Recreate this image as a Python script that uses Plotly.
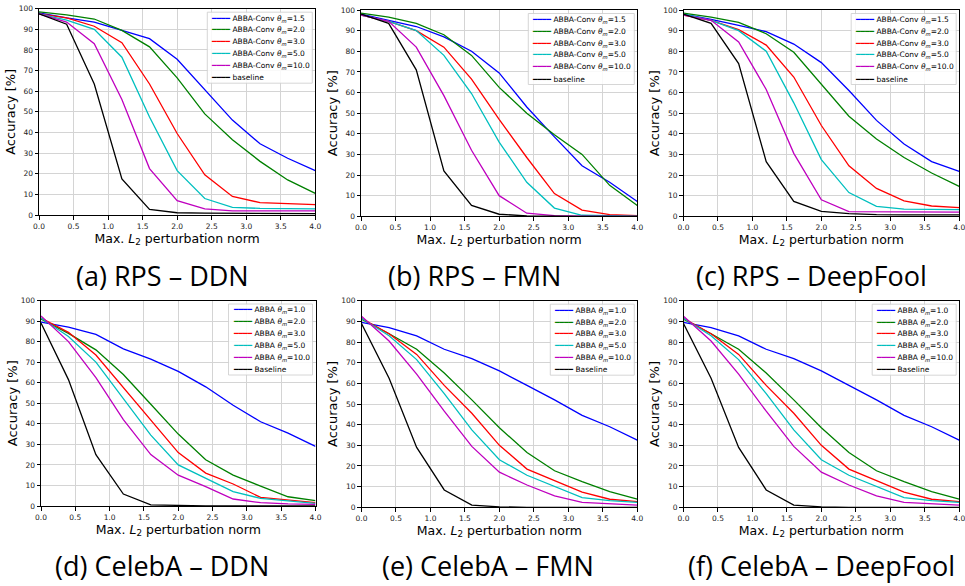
import plotly.graph_objects as go

W, H = 965, 586

# ---------------- data ----------------
NORM = [0.0, 0.4, 0.8, 1.2, 1.6, 2.0, 2.4, 2.8, 3.2, 3.6, 4.0]

RPS_LABELS = [
    "ABBA-Conv <i>θ</i><sub><i>m</i></sub>=1.5",
    "ABBA-Conv <i>θ</i><sub><i>m</i></sub>=2.0",
    "ABBA-Conv <i>θ</i><sub><i>m</i></sub>=3.0",
    "ABBA-Conv <i>θ</i><sub><i>m</i></sub>=5.0",
    "ABBA-Conv <i>θ</i><sub><i>m</i></sub>=10.0",
    "baseline",
]
CELEBA_LABELS = [
    "ABBA <i>θ</i><sub><i>m</i></sub>=1.0",
    "ABBA <i>θ</i><sub><i>m</i></sub>=2.0",
    "ABBA <i>θ</i><sub><i>m</i></sub>=3.0",
    "ABBA <i>θ</i><sub><i>m</i></sub>=5.0",
    "ABBA <i>θ</i><sub><i>m</i></sub>=10.0",
    "Baseline",
]
CAPTIONS = [
    "(a) RPS – DDN", "(b) RPS – FMN", "(c) RPS – DeepFool",
    "(d) CelebA – DDN", "(e) CelebA – FMN", "(f) CelebA – DeepFool",
]
X_TITLE = "Max. <i>L</i><sub>2</sub> perturbation norm"
Y_TITLE = "Accuracy [%]"

# (a) RPS - DDN
RPS_DDN_T15 = [98, 95.5, 93.5, 89.5, 85.5, 75.5, 61, 46, 34.5, 27.5, 21.5]
RPS_DDN_T20 = [98.5, 97, 95, 89.5, 81.5, 66.5, 49, 36.5, 26, 17, 10.5]
RPS_DDN_T30 = [97.5, 95.5, 91.5, 83.5, 63.5, 39.5, 19.5, 9, 6, 5.5, 5]
RPS_DDN_T50 = [97.5, 94.5, 90, 76.5, 47.5, 21.5, 8, 3.7, 3.2, 3.1, 3]
RPS_DDN_T100 = [97.5, 93.5, 83, 56, 22.5, 7, 3, 2, 2, 2, 2]
RPS_DDN_BASE = [97.5, 92.5, 63.5, 17.5, 2.7, 1.1, 0.9, 0.8, 0.7, 0.7, 0.7]

# (b) RPS - FMN
RPS_FMN_T15 = [98, 95, 92, 87, 80, 69.5, 53, 38.5, 24.5, 16.5, 7.2]
RPS_FMN_T20 = [98.5, 96.5, 93.5, 88, 78, 62.5, 50, 39.5, 30, 15, 5.2]
RPS_FMN_T30 = [97.5, 94.5, 90, 82, 66.5, 47, 28.5, 11, 3, 0.8, 0.3]
RPS_FMN_T50 = [97.5, 94.5, 90, 78, 59.5, 36, 16.5, 4, 0.5, 0.2, 0.1]
RPS_FMN_T100 = [97.5, 94.5, 82, 58.5, 32, 10, 1.5, 0.3, 0.1, 0.05, 0]
RPS_FMN_BASE = [98, 93.5, 71, 22, 5.3, 1, 0.2, 0, 0, 0, 0]

# (c) RPS - DeepFool
RPS_DF_T15 = [98, 95.5, 92.5, 89.5, 83.5, 74.5, 61, 46.5, 35, 26.5, 21.8]
RPS_DF_T20 = [98.5, 96.5, 94, 88.5, 79.5, 64, 48.5, 37.5, 28.5, 21, 14.5]
RPS_DF_T30 = [97.5, 95, 90.5, 83, 67.5, 44, 24.5, 13.5, 7.5, 5, 4.2]
RPS_DF_T50 = [98, 95, 90, 80, 55, 27.5, 11.5, 4.8, 3.5, 3.2, 3.2]
RPS_DF_T100 = [97.5, 95, 84.5, 61.5, 30.5, 8, 2.3, 2.2, 2.1, 2, 2]
RPS_DF_BASE = [98, 93.5, 74, 26.5, 7.2, 2.4, 1.3, 0.8, 0.7, 0.7, 0.7]

# (d) CelebA - DDN
CEL_DDN_T10 = [89.5, 87, 83.5, 76.5, 71.5, 65.5, 58, 49, 41, 35.5, 29]
CEL_DDN_T20 = [91, 84, 76, 64, 49.5, 35, 22.5, 15, 9.7, 4.5, 2.6]
CEL_DDN_T30 = [91.5, 84.5, 73.5, 57.5, 41.5, 26, 16, 10.7, 4.2, 2.9, 1.6]
CEL_DDN_T50 = [91.5, 82.5, 70, 52.5, 34.5, 20, 13.5, 7, 3.7, 2.4, 1.3]
CEL_DDN_T100 = [92.5, 80, 62.5, 42, 25, 15, 9.4, 3.4, 1.6, 1, 0.8]
CEL_DDN_BASE = [89, 61.5, 25, 5.8, 0.5, 0.2, 0.1, 0, 0, 0, 0]

# (e) CelebA - FMN
CEL_FMN_T10 = [89.5, 87, 83, 76.5, 72, 66, 59, 52, 44.5, 39, 32.5]
CEL_FMN_T20 = [91, 84, 76.5, 65, 52, 38.5, 26.5, 17.7, 12.4, 7.6, 3.9]
CEL_FMN_T30 = [91.5, 84, 74, 59, 45.5, 30, 18.5, 12.9, 7.3, 3.9, 2.7]
CEL_FMN_T50 = [91.5, 83, 71.5, 55, 37.5, 23, 15.5, 10, 4.7, 3.2, 2.4]
CEL_FMN_T100 = [92.5, 80.5, 64.5, 46.5, 29.5, 17, 10.8, 5.5, 2.4, 1.6, 1.1]
CEL_FMN_BASE = [89, 62.5, 29, 8.4, 1.1, 0.2, 0, 0, 0, 0, 0]

# (f) CelebA - DeepFool
CEL_DF_T10 = [89.5, 87, 83, 76.5, 72, 66, 59, 52, 44.5, 39, 32.5]
CEL_DF_T20 = [91, 84, 76.5, 65, 52, 38.5, 26.5, 17.7, 12.4, 7.6, 3.9]
CEL_DF_T30 = [91.5, 84, 74, 59, 45.5, 30, 18.5, 12.9, 7.3, 3.9, 2.7]
CEL_DF_T50 = [91.5, 83, 71.5, 55, 37.5, 23, 15.5, 10, 4.7, 3.2, 2.4]
CEL_DF_T100 = [92.5, 80.5, 64.5, 46.5, 29.5, 17, 10.8, 5.5, 2.4, 1.6, 1.1]
CEL_DF_BASE = [89, 62.5, 29, 8.4, 1.1, 0.2, 0, 0, 0, 0, 0]

PANEL_SERIES = [
    [RPS_DDN_T15, RPS_DDN_T20, RPS_DDN_T30, RPS_DDN_T50, RPS_DDN_T100, RPS_DDN_BASE],
    [RPS_FMN_T15, RPS_FMN_T20, RPS_FMN_T30, RPS_FMN_T50, RPS_FMN_T100, RPS_FMN_BASE],
    [RPS_DF_T15, RPS_DF_T20, RPS_DF_T30, RPS_DF_T50, RPS_DF_T100, RPS_DF_BASE],
    [CEL_DDN_T10, CEL_DDN_T20, CEL_DDN_T30, CEL_DDN_T50, CEL_DDN_T100, CEL_DDN_BASE],
    [CEL_FMN_T10, CEL_FMN_T20, CEL_FMN_T30, CEL_FMN_T50, CEL_FMN_T100, CEL_FMN_BASE],
    [CEL_DF_T10, CEL_DF_T20, CEL_DF_T30, CEL_DF_T50, CEL_DF_T100, CEL_DF_BASE],
]
PANEL_LABELS = [RPS_LABELS] * 3 + [CELEBA_LABELS] * 3

# ---------------- layout / style ----------------
COLORS = ["#0000ff", "#008000", "#ff0000", "#00bfbf", "#bf00bf", "#000000"]
# plot-area boxes in pixels: (left, right, top, bottom)
BOXES = [
    (39.0, 315.3, 8.7, 215.0),
    (361.0, 637.3, 10.0, 216.3),
    (683.5, 959.2, 10.0, 216.3),
    (41.0, 315.5, 300.5, 506.0),
    (361.5, 637.3, 300.7, 507.3),
    (683.5, 959.2, 300.7, 507.3),
]
LEGEND_W = [105, 106, 105, 84, 84, 84]
CAPTION_POS = [(162, 275), (474, 275), (811, 275), (162, 565), (488, 565), (821, 565)]

FONT = "DejaVu Sans"

fig = go.Figure()
layout = dict(
    width=W, height=H, autosize=False,
    margin=dict(l=0, r=0, t=0, b=0),
    paper_bgcolor="white", plot_bgcolor="white",
    template="none", showlegend=False,
    font=dict(family=FONT, color="black"),
)

annotations = []
shapes = []

for i, (series_list, labels, box) in enumerate(zip(PANEL_SERIES, PANEL_LABELS, BOXES)):
    k = i + 1
    xa = "x" if k == 1 else f"x{k}"
    ya = "y" if k == 1 else f"y{k}"
    L, R, T, B = box
    for s, lab, col in zip(series_list, labels, COLORS):
        fig.add_trace(go.Scatter(
            x=NORM, y=s, mode="lines", name=lab.replace("<i>", "").replace("</i>", ""),
            line=dict(color=col, width=1.3),
            xaxis=xa, yaxis=ya, showlegend=False,
        ))
    axcommon = dict(
        showgrid=True, gridcolor="#d4d4d4", gridwidth=0.9,
        showline=True, linecolor="black", linewidth=1, mirror=True,
        ticks="outside", ticklen=3.5, tickwidth=0.8, tickcolor="black",
        tickfont=dict(family=FONT, size=7.5, color="#222222"),
        ticklabeloverflow="allow",
        zeroline=False, automargin=False, fixedrange=True,
    )
    layout["xaxis" if k == 1 else f"xaxis{k}"] = dict(
        domain=[L / W, R / W], range=[0, 4], dtick=0.5, tick0=0, tickformat=".1f",
        anchor=ya,
        title=dict(text=X_TITLE, font=dict(family=FONT, size=12.5, color="black"), standoff=1),
        **axcommon,
    )
    layout["yaxis" if k == 1 else f"yaxis{k}"] = dict(
        domain=[1 - B / H, 1 - T / H], range=[0, 100], dtick=10, tick0=0,
        anchor=xa,
        title=dict(text=Y_TITLE, font=dict(family=FONT, size=13, color="black"), standoff=0),
        **axcommon,
    )

    # legend frame + entries
    lw = LEGEND_W[i]
    lr = R - 3
    ll = lr - lw
    lt = T + 3.5
    lb = lt + 71
    shapes.append(dict(
        type="rect", xref="paper", yref="paper",
        x0=ll / W, x1=lr / W, y0=1 - lb / H, y1=1 - lt / H,
        line=dict(color="#cccccc", width=0.8),
        fillcolor="rgba(255,255,255,0.85)", layer="above",
    ))
    for j, (lab, col) in enumerate(zip(labels, COLORS)):
        yy = lt + 6.5 + 11.8 * j
        annotations.append(dict(
            xref="paper", yref="paper", x=(ll + 2) / W, y=1 - yy / H,
            xanchor="left", yanchor="middle", showarrow=False,
            text=f"<span style='color:{col}'>━━━━</span> {lab}",
            font=dict(family=FONT, size=7.5, color="black"),
        ))

    cx, cy = CAPTION_POS[i]
    annotations.append(dict(
        xref="paper", yref="paper", x=cx / W, y=1 - cy / H,
        xanchor="center", yanchor="middle", showarrow=False,
        text=CAPTIONS[i],
        font=dict(family="Open Sans", size=27, color="black"),
    ))

layout["annotations"] = annotations
layout["shapes"] = shapes
fig.update_layout(**layout)

fig.write_html(
    "out.html",
    config={"displayModeBar": False},
    post_script="document.body.style.margin='0';",
)
